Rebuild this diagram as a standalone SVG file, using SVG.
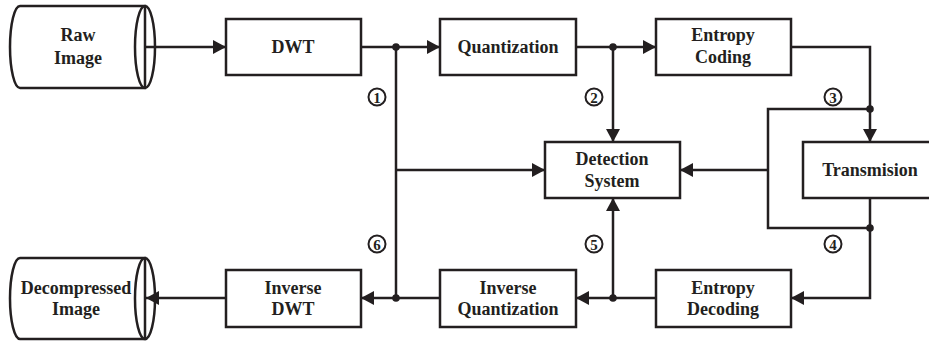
<svg xmlns="http://www.w3.org/2000/svg" width="929" height="342" viewBox="0 0 929 342">
<style>
.box{fill:#fff;stroke:#231f20;stroke-width:2.5}
.ln{fill:none;stroke:#231f20;stroke-width:2.5}
.t{font-family:"Liberation Serif","Times New Roman",serif;font-weight:bold;font-size:18px;fill:#231f20;text-anchor:middle}
.n{font-family:"Liberation Serif","Times New Roman",serif;font-weight:bold;font-size:15px;fill:#231f20;text-anchor:middle}
.c{fill:#fff;stroke:#231f20;stroke-width:2}
.dot{fill:#231f20}
</style>
<defs>
<marker id="arr" markerUnits="userSpaceOnUse" markerWidth="14" markerHeight="14" refX="13" refY="7" orient="auto">
<path d="M0,0 L13,7 L0,14 z" fill="#231f20"/>
</marker>
</defs>
<rect width="929" height="342" fill="#fff"/>
<g id="connectors">
<path class="ln" d="M145,47 H226" marker-end="url(#arr)"/>
<path class="ln" d="M361,47 H440" marker-end="url(#arr)"/>
<path class="ln" d="M576,47 H656" marker-end="url(#arr)"/>
<path class="ln" d="M791,47 H870 V142" marker-end="url(#arr)"/>
<path class="ln" d="M870,109 H768 V228 H870"/>
<path class="ln" d="M870,198 V298 H791" marker-end="url(#arr)"/>
<path class="ln" d="M768,170 H680" marker-end="url(#arr)"/>
<path class="ln" d="M656,298 H576" marker-end="url(#arr)"/>
<path class="ln" d="M440,298 H361" marker-end="url(#arr)"/>
<path class="ln" d="M226,298 H146" marker-end="url(#arr)"/>
<path class="ln" d="M396,47 V298"/>
<path class="ln" d="M396,170 H545" marker-end="url(#arr)"/>
<path class="ln" d="M613,47 V142" marker-end="url(#arr)"/>
<path class="ln" d="M613,298 V198" marker-end="url(#arr)"/>
<circle class="dot" cx="396" cy="47" r="3.8"/>
<circle class="dot" cx="613" cy="47" r="3.8"/>
<circle class="dot" cx="870" cy="109" r="3.8"/>
<circle class="dot" cx="870" cy="228" r="3.8"/>
<circle class="dot" cx="613" cy="298" r="3.8"/>
<circle class="dot" cx="396" cy="298" r="3.8"/>
</g>
<g id="labels">
<circle class="c" cx="377" cy="97" r="8.5"/><text class="n" x="377" y="102.5">1</text>
<circle class="c" cx="594" cy="97" r="8.5"/><text class="n" x="594" y="102.5">2</text>
<circle class="c" cx="833" cy="97" r="8.5"/><text class="n" x="833" y="102.5">3</text>
<circle class="c" cx="833" cy="244" r="8.5"/><text class="n" x="833" y="249.5">4</text>
<circle class="c" cx="594" cy="244" r="8.5"/><text class="n" x="594" y="249.5">5</text>
<circle class="c" cx="377" cy="244" r="8.5"/><text class="n" x="377" y="249.5">6</text>
</g>
<g id="raw">
<path class="box" d="M20,6 H145 V88 H20 A10,41 0 0 1 20,6 Z"/>
<ellipse class="box" cx="145" cy="47" rx="10" ry="41" style="fill:none"/>
<text class="t" x="78" y="41">Raw</text>
<text class="t" x="78" y="64">Image</text>
</g>
<g id="dwt">
<rect class="box" x="226" y="19" width="135" height="56"/>
<text class="t" x="293" y="53">DWT</text>
</g>
<g id="quant">
<rect class="box" x="440" y="19" width="136" height="56"/>
<text class="t" x="508" y="53">Quantization</text>
</g>
<g id="entcod">
<rect class="box" x="656" y="19" width="135" height="56"/>
<text class="t" x="723" y="41">Entropy</text>
<text class="t" x="723" y="63">Coding</text>
</g>
<g id="detect">
<rect class="box" x="545" y="142" width="135" height="56"/>
<text class="t" x="612" y="165">Detection</text>
<text class="t" x="612" y="187">System</text>
</g>
<g id="trans">
<rect class="box" x="803" y="142" width="135" height="56"/>
<text class="t" x="870" y="176">Transmision</text>
</g>
<g id="entdec">
<rect class="box" x="656" y="270" width="135" height="57"/>
<text class="t" x="723" y="294">Entropy</text>
<text class="t" x="723" y="315">Decoding</text>
</g>
<g id="iquant">
<rect class="box" x="440" y="270" width="136" height="57"/>
<text class="t" x="508" y="294">Inverse</text>
<text class="t" x="508" y="315">Quantization</text>
</g>
<g id="idwt">
<rect class="box" x="226" y="270" width="135" height="57"/>
<text class="t" x="293" y="294">Inverse</text>
<text class="t" x="293" y="315">DWT</text>
</g>
<g id="decomp">
<path class="box" d="M20,258 H145 V339 H20 A10,40.5 0 0 1 20,258 Z"/>
<ellipse class="box" cx="145" cy="298.5" rx="10" ry="40.5" style="fill:none"/>
<text class="t" x="76" y="294">Decompressed</text>
<text class="t" x="76" y="315">Image</text>
</g>
</svg>
